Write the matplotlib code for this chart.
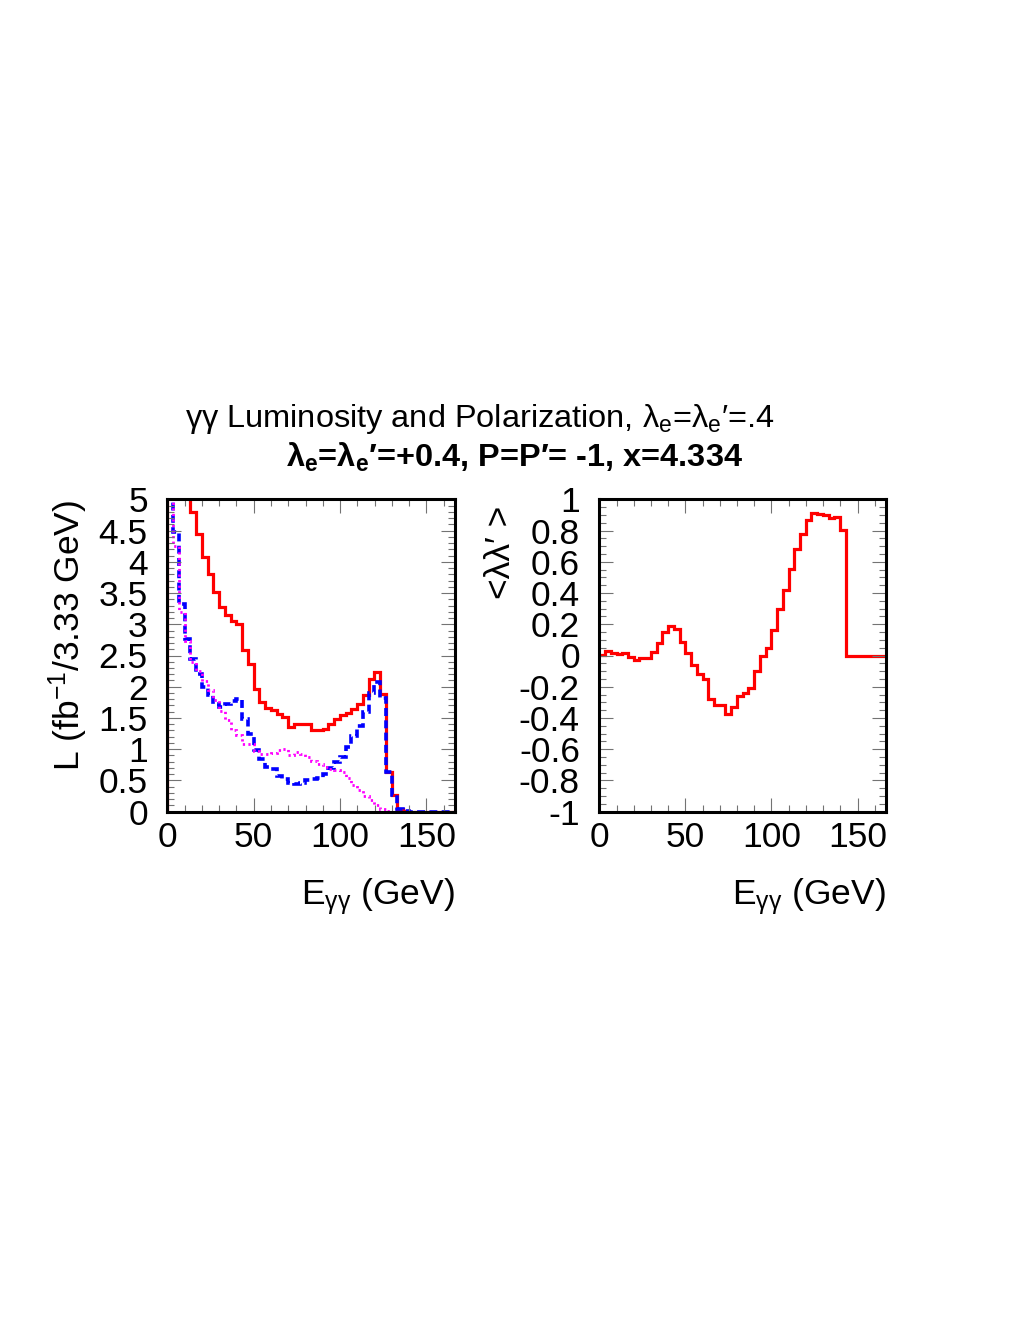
import numpy as np
import matplotlib
matplotlib.use("Agg")
import matplotlib.pyplot as plt
from matplotlib.ticker import MultipleLocator, FuncFormatter

plt.rcParams['font.family'] = ['Liberation Sans', 'DejaVu Sans']
plt.rcParams['mathtext.fontset'] = 'custom'
plt.rcParams['mathtext.rm'] = 'Liberation Sans'
plt.rcParams['mathtext.it'] = 'Liberation Sans:italic'
plt.rcParams['mathtext.bf'] = 'Liberation Sans:bold'
plt.rcParams['axes.unicode_minus'] = False

# 50 bins of 3.33 GeV
bin_width = 3.33
edges = np.arange(51) * bin_width

# luminosity per bin (fb^-1 / 3.33 GeV); first bins run off the top of the plot
lum_total = [18.0, 8.73, 6.52, 5.49, 4.80, 4.44, 4.07, 3.80, 3.52, 3.27,
             3.15, 3.06, 3.00, 2.59, 2.36, 1.97, 1.76, 1.66, 1.62, 1.57,
             1.52, 1.36, 1.40, 1.41, 1.40, 1.31, 1.31, 1.33, 1.40, 1.48,
             1.55, 1.58, 1.65, 1.73, 1.87, 2.12, 2.23, 1.88, 0.63, 0.27,
             0.05, 0.01, 0, 0, 0, 0, 0, 0, 0, 0]
lum_j0 = [9.0, 4.48, 3.32, 2.76, 2.45, 2.21, 2.00, 1.87, 1.73, 1.68,
          1.72, 1.77, 1.80, 1.49, 1.25, 0.99, 0.84, 0.72, 0.69, 0.57,
          0.53, 0.46, 0.44, 0.46, 0.50, 0.52, 0.54, 0.60, 0.70, 0.79,
          0.88, 1.03, 1.21, 1.37, 1.60, 1.90, 2.08, 1.82, 0.63, 0.27,
          0.05, 0.01, 0, 0, 0, 0, 0, 0, 0, 0]
lum_j2 = [9.0, 4.25, 3.20, 2.73, 2.40, 2.25, 2.09, 1.94, 1.79, 1.61,
          1.46, 1.31, 1.22, 1.09, 1.08, 0.97, 0.93, 0.92, 0.94, 0.99,
          1.00, 0.91, 0.96, 0.93, 0.88, 0.81, 0.77, 0.72, 0.69, 0.67,
          0.63, 0.54, 0.43, 0.35, 0.25, 0.19, 0.10, 0.05, 0.01, 0,
          0, 0, 0, 0, 0, 0, 0, 0, 0, 0]

# mean helicity product <lambda lambda'>
polar = [0.005, 0.03, 0.016, 0.01, 0.016, -0.01, -0.027, -0.018, -0.014, 0.02,
         0.08, 0.149, 0.19, 0.17, 0.087, 0.016, -0.059, -0.119, -0.149, -0.277,
         -0.316, -0.316, -0.373, -0.331, -0.258, -0.24, -0.209, -0.102, -0.005, 0.048,
         0.166, 0.30, 0.42, 0.555, 0.683, 0.78, 0.865, 0.912, 0.909, 0.897,
         0.882, 0.884, 0.803, 0, 0, 0, 0, 0, 0, 0]

W, H = 1035, 1340
fig = plt.figure(figsize=(W / 100, H / 100), dpi=100)

ax1 = fig.add_axes([167.3 / W, 1 - 811.7 / H, 287.7 / W, 312.4 / H])
ax2 = fig.add_axes([599.3 / W, 1 - 811.7 / H, 286.7 / W, 312.4 / H])

fmt = FuncFormatter(lambda v, p: '%g' % round(v, 6))

for ax in (ax1, ax2):
    ax.set_xlim(0, edges[-1])
    ax.xaxis.set_major_locator(MultipleLocator(50))
    ax.xaxis.set_minor_locator(MultipleLocator(10))
    ax.tick_params(which='both', direction='in', top=True, right=True,
                   color='0.45', width=0.8, labelsize=25.5)
    ax.tick_params(which='major', length=10)
    ax.tick_params(which='minor', length=5)
    ax.tick_params(axis='x', pad=7)
    ax.tick_params(axis='y', pad=14)
    ax.yaxis.set_major_formatter(fmt)
    for s in ax.spines.values():
        s.set_linewidth(2.2)
        s.set_color('black')
    ax.set_xlabel(r'E$_{\mathrm{\gamma\gamma}}$ (GeV)', fontsize=25.5, ha='right')
    ax.xaxis.set_label_coords(1.0, -0.205)

# left: luminosity
ax1.stairs(lum_total, edges, baseline=0, color='#ff0000', lw=2.3)
ax1.stairs(lum_j0, edges, baseline=0, color='#0000ff', lw=2.6,
           linestyle=(0, (2.2, 1.2)))
ax1.stairs(lum_j2, edges, baseline=0, color='#ff00ff', lw=2.0,
           linestyle=(0, (0.8, 1.2)))
ax1.set_ylim(0, 5)
ax1.yaxis.set_major_locator(MultipleLocator(0.5))
ax1.yaxis.set_minor_locator(MultipleLocator(0.1))
ax1.set_ylabel(r'L (fb$^{-1}$/3.33 GeV)', fontsize=25.5, ha='right')
ax1.yaxis.set_label_coords(-0.27, 1.0)

# right: polarization
ax2.stairs(polar, edges, baseline=None, color='#ff0000', lw=2.3)
ax2.set_ylim(-1, 1)
ax2.yaxis.set_major_locator(MultipleLocator(0.2))
ax2.yaxis.set_minor_locator(MultipleLocator(0.05))
ax2.set_ylabel('<λλ′ >', fontsize=25.5, ha='right')
ax2.yaxis.set_label_coords(-0.287, 0.98)

fig.text(479.5 / W, 1 - 427 / H,
         r'γγ Luminosity and Polarization, λ$_\mathrm{e}$=λ$_\mathrm{e}$′=.4',
         ha='center', va='baseline', fontsize=23.4)
fig.text(514 / W, 1 - 466.7 / H,
         r'λ$_\mathbf{e}$=λ$_\mathbf{e}$′=+0.4, P=P′= -1, x=4.334',
         ha='center', va='baseline', fontsize=23.4, fontweight='bold')

fig.savefig('out.png', dpi=100)
